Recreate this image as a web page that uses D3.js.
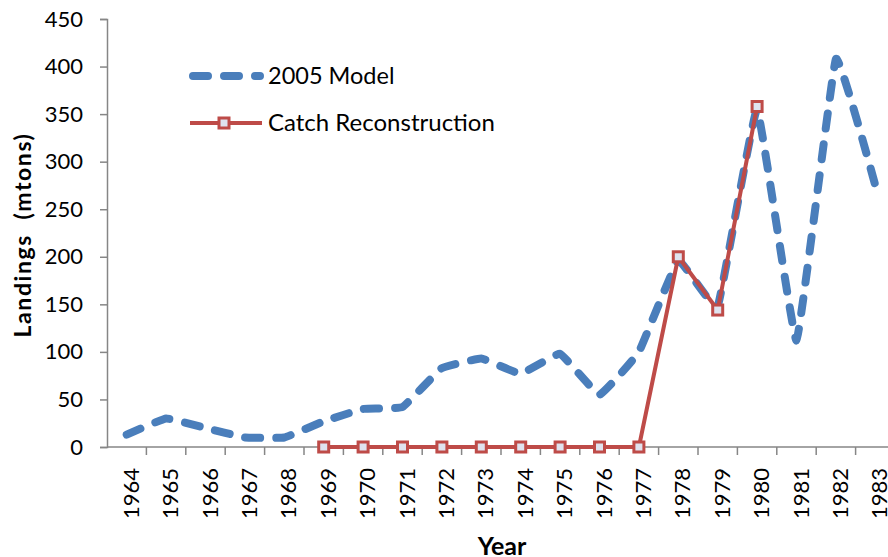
<!DOCTYPE html>
<html><head><meta charset="utf-8">
<script src="https://cdn.jsdelivr.net/npm/d3@7"></script>
<style>
html,body{margin:0;padding:0;background:#fff;overflow:hidden;}
svg{display:block;font-family:Lato,"Open Sans",sans-serif;}
text{white-space:pre;}
</style></head>
<body><svg id="c" width="888" height="557"></svg>
<script>
const years = ["1964","1965","1966","1967","1968","1969","1970","1971","1972","1973","1974","1975","1976","1977","1978","1979","1980","1981","1982","1983"];
const model2005 = [13,30,20,10,10,27,40,42,83,93,77,98,55,100,196,148,355,112,408,275];
const reconYears = ["1969","1970","1971","1972","1973","1974","1975","1976","1977","1978","1979","1980"];
const reconValues = [0,0,0,0,0,0,0,0,0,200,144,358];
const yTicks = [0,50,100,150,200,250,300,350,400,450];
const seriesNames = ["2005 Model","Catch Reconstruction"];

const svg = d3.select("#c");
const mLeft = 107, mTop = 19, mBottom = 447, band = 39.4;
const x = d3.scaleBand().domain(years).range([mLeft, mLeft + band*years.length]).padding(0);
const y = d3.scaleLinear().domain([0,450]).range([mBottom, mTop]);
const cx = d => x(d) + x.bandwidth()/2;
const axisColor = "#868686";

// y axis
const ya = svg.append("g").attr("transform",`translate(${mLeft},0)`)
  .call(d3.axisLeft(y).tickValues(yTicks).tickSize(7).tickPadding(17).tickFormat(d3.format("d")));
ya.select(".domain").attr("stroke",axisColor).attr("stroke-width",1.5);
ya.selectAll(".tick line").attr("stroke",axisColor).attr("stroke-width",1.5);
ya.selectAll("text").attr("font-size",22).attr("fill","#000").attr("font-family","Lato,sans-serif");

// x axis
const xg = svg.append("g").attr("transform",`translate(0,${mBottom})`);
xg.append("line").attr("x1",mLeft).attr("x2",888).attr("y1",0).attr("y2",0)
  .attr("stroke",axisColor).attr("stroke-width",1.5);
xg.selectAll("line.tk").data(years).enter().append("line")
  .attr("class","tk")
  .attr("x1",d=> x(d) + band).attr("x2",d=> x(d) + band)
  .attr("y1",0).attr("y2",8).attr("stroke",axisColor).attr("stroke-width",1.5);
xg.selectAll("text").data(years).enter().append("text")
  .attr("transform",d=>`translate(${cx(d)+12},${21}) rotate(-90)`)
  .attr("text-anchor","end").attr("font-size",22).attr("fill","#000")
  .text(d=>d);

// axis titles
svg.append("text").attr("transform",`translate(31,${235}) rotate(-90)`)
  .attr("text-anchor","middle").attr("font-size",23).attr("letter-spacing",1.6)
  .attr("font-weight","bold").text("Landings  (mtons)");
svg.append("text").attr("x",502).attr("y",555).attr("text-anchor","middle")
  .attr("font-size",25).attr("font-weight","bold").text("Year");

// blue series
const blue = "#4a7ebb", red = "#be4b48";
const line = d3.line().x((d,i)=>cx(years[i])).y(d=>y(d)).curve(d3.curveCardinal.tension(0.75));
svg.append("path").datum(model2005).attr("d",line).attr("fill","none")
  .attr("stroke",blue).attr("stroke-width",8).attr("stroke-linecap","round").attr("stroke-linejoin","round")
  .attr("stroke-dasharray","15,16");

// red series
const rline = d3.line().x((d,i)=>cx(reconYears[i])).y(d=>y(d));
svg.append("path").datum(reconValues).attr("d",rline).attr("fill","none")
  .attr("stroke",red).attr("stroke-width",4).attr("stroke-linejoin","round");
svg.selectAll("rect.mk").data(reconValues).enter().append("rect").attr("class","mk")
  .attr("x",(d,i)=>cx(reconYears[i])-5).attr("y",d=>y(d)-5)
  .attr("width",10).attr("height",10).attr("fill","#dfe3ef").attr("stroke",red).attr("stroke-width",3);

// legend
const lg = svg.append("g");
lg.append("line").attr("x1",193).attr("x2",260).attr("y1",76).attr("y2",76)
  .attr("stroke",blue).attr("stroke-width",8).attr("stroke-linecap","round").attr("stroke-dasharray","15,16");
lg.append("text").attr("x",268).attr("y",84).attr("font-size",23.5).text(seriesNames[0]);
lg.append("line").attr("x1",190).attr("x2",262).attr("y1",123).attr("y2",123)
  .attr("stroke",red).attr("stroke-width",4);
lg.append("rect").attr("x",219).attr("y",118).attr("width",10).attr("height",10)
  .attr("fill","#dfe3ef").attr("stroke",red).attr("stroke-width",3);
lg.append("text").attr("x",268).attr("y",131).attr("font-size",24).text(seriesNames[1]);
</script></body></html>
